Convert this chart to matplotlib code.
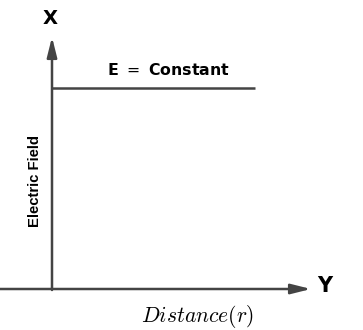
import matplotlib
matplotlib.use('Agg')
import matplotlib.pyplot as plt

# distance (r) and field strength (E), in drawing units
r = [0, 203]
E = [201, 201]

line_color = '#444444'

fig = plt.figure(figsize=(3.63, 3.30), dpi=100)
ax = fig.add_axes([0, 0, 1, 1])
ax.set_xlim(-52, 311)
ax.set_ylim(-41, 289)
ax.axis('off')

# axes with arrow heads
arrow = dict(arrowstyle='-|>,head_length=1.2,head_width=0.3',
             color=line_color, lw=1.8, shrinkA=0, shrinkB=0)
ax.annotate('', xy=(259, 0), xytext=(-52, 0), arrowprops=arrow)
ax.annotate('', xy=(0, 252), xytext=(0, -1), arrowprops=arrow)

# constant field line
ax.plot(r, E, color=line_color, lw=1.8, solid_capstyle='butt')

ax.text(-2, 270, 'X', fontsize=14, fontweight='bold', family='DejaVu Sans',
        ha='center', va='center')
ax.text(273, 3, 'Y', fontsize=15, fontweight='bold', family='DejaVu Sans',
        ha='center', va='center')
ax.text(116, 219, r'E $=$ Constant', fontsize=11.3, fontweight='bold',
        family='DejaVu Sans', ha='center', va='center')
ax.text(-17, 108, 'Electric Field', fontsize=10.7, fontweight='bold',
        family='Liberation Sans', rotation=90, ha='center', va='center')
ax.text(145, -27, r'$Distance(r)$', fontsize=15.5, ha='center', va='center',
        math_fontfamily='cm')

fig.savefig('out.png', dpi=100)
